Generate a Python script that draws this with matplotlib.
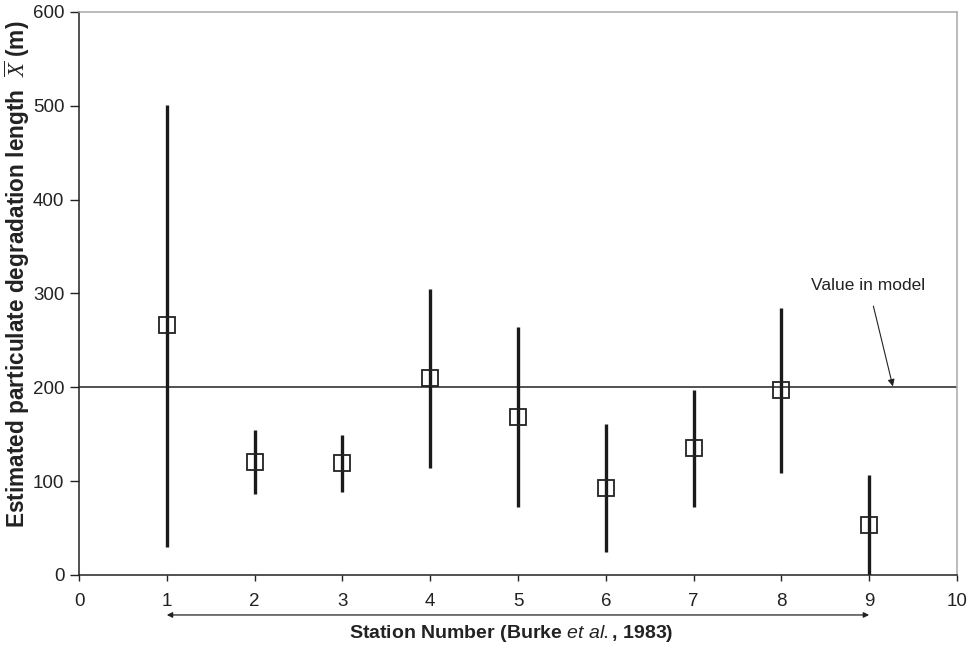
import matplotlib.pyplot as plt

plt.rcParams['font.family'] = ['Liberation Sans', 'DejaVu Sans']
plt.rcParams['mathtext.fontset'] = 'custom'
plt.rcParams['mathtext.it'] = 'Liberation Sans:italic'
plt.rcParams['mathtext.rm'] = 'Liberation Serif:italic'

# station estimates with lower/upper bounds
stations = [1, 2, 3, 4, 5, 6, 7, 8, 9]
estimate = [266, 120, 119, 210, 168, 93, 135, 197, 53]
lower = [30, 86, 88, 114, 72, 25, 72, 109, 0]
upper = [501, 155, 149, 305, 264, 161, 197, 285, 107]
model_value = 200

fig = plt.figure(figsize=(9.73, 6.47), dpi=100)
ax = fig.add_axes([0.0812, 0.1113, 0.9023, 0.8702])

dark = '#1a1a1a'
ax.axhline(model_value, color='#222222', lw=1.1, zorder=1)
ax.vlines(stations, lower, upper, color=dark, lw=2.4, zorder=2)
ax.plot(stations, estimate, 's', ms=11, mfc='none', mec='#222222', mew=1.3, zorder=3)

ax.set_xlim(0, 10)
ax.set_ylim(0, 600)
ax.set_xticks(range(0, 11))
ax.set_yticks(range(0, 601, 100))
ax.tick_params(direction='out', width=1, labelsize=13.5, colors='#222222')
ax.tick_params(axis='y', length=6.5, pad=4)
ax.tick_params(axis='x', length=4, pad=9)
for side in ['left', 'bottom']:
    ax.spines[side].set_color('#222222')
    ax.spines[side].set_linewidth(1.1)
for side in ['top', 'right']:
    ax.spines[side].set_color('#aaaaaa')
    ax.spines[side].set_linewidth(1.1)

ax.annotate('Value in model', xy=(9.27, 201), xytext=(8.99, 309),
            ha='center', va='center', fontsize=12.5, color='#222222',
            arrowprops=dict(arrowstyle='-|>', color='#222222', lw=0.8,
                            mutation_scale=10, shrinkA=8, shrinkB=0))

# station range arrow under the x axis
trans = ax.get_xaxis_transform()
ax.annotate('', xy=(9, -0.071), xytext=(1, -0.071), xycoords=trans, textcoords=trans,
            annotation_clip=False,
            arrowprops=dict(arrowstyle='<|-|>', color='#222222', lw=0.9,
                            mutation_scale=8, shrinkA=0, shrinkB=0))
fig.text(511 / 973, 1 - 634 / 647, r'Station Number (Burke $\mathit{et\ al.}$, 1983)',
         ha='center', va='center', fontsize=14, fontweight='bold', color='#222222')

fig.text(17 / 973, 1 - 274 / 647,
         r'Estimated particulate degradation length  $\overline{\mathrm{X}}$ (m)',
         rotation=90, ha='center', va='center', fontsize=16.3, fontweight='bold',
         color='#222222')

fig.savefig('out.png', dpi=100)
